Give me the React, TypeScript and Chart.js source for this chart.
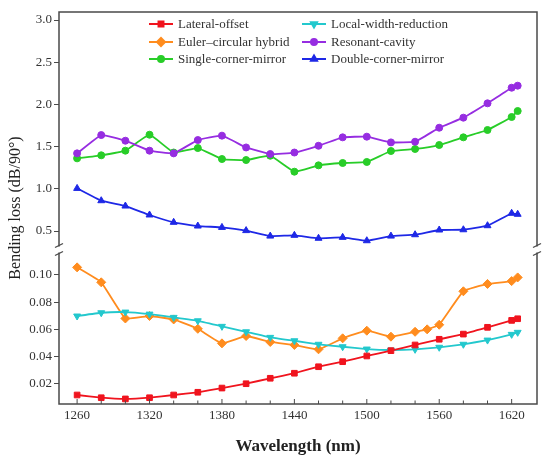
import { useEffect, useRef } from "react";
import { Chart, registerables } from "chart.js";
import { drawPoint } from "chart.js/helpers";

Chart.register(...registerables);

const FONT = "'Liberation Serif', 'Times New Roman', serif";

// wavelengths (nm) shared by most series
const WAVELENGTHS = [
  1260, 1280, 1300, 1320, 1340, 1360, 1380, 1400, 1420, 1440, 1460, 1480, 1500,
  1520, 1540, 1560, 1580, 1600, 1620, 1625,
];
// Euler curve has an extra sample at 1550
const WAVELENGTHS_EULER = [
  1260, 1280, 1300, 1320, 1340, 1360, 1380, 1400, 1420, 1440, 1460, 1480, 1500,
  1520, 1540, 1550, 1560, 1580, 1600, 1620, 1625,
];

// lower panel (dB/90°)
const LATERAL_OFFSET = [
  0.0117, 0.0097, 0.0088, 0.0097, 0.0117, 0.0137, 0.0168, 0.02, 0.024, 0.0277,
  0.0325, 0.0362, 0.0404, 0.0443, 0.0485, 0.0527, 0.0565, 0.0615, 0.0666, 0.0678,
];
const LOCAL_WIDTH = [
  0.0698, 0.0722, 0.0727, 0.0712, 0.0688, 0.0663, 0.0622, 0.0582, 0.0541,
  0.0516, 0.049, 0.0472, 0.0455, 0.0448, 0.0453, 0.0468, 0.049, 0.0521, 0.0563,
  0.0578,
];
const EULER_HYBRID = [
  0.1056, 0.0946, 0.068, 0.0698, 0.0673, 0.0604, 0.0497, 0.0551, 0.0507, 0.0485,
  0.0453, 0.0534, 0.059, 0.0546, 0.0582, 0.06, 0.0634, 0.088, 0.0934, 0.0955,
  0.0982,
];

// upper panel (dB/90°)
const RESONANT = [
  1.42, 1.637, 1.57, 1.452, 1.42, 1.578, 1.63, 1.49, 1.412, 1.43, 1.51, 1.61,
  1.618, 1.55, 1.558, 1.724, 1.843, 2.013, 2.198, 2.222,
];
const SINGLE_CORNER = [
  1.361, 1.397, 1.452, 1.641, 1.43, 1.483, 1.353, 1.341, 1.392, 1.203, 1.278,
  1.306, 1.318, 1.448, 1.472, 1.519, 1.61, 1.697, 1.851, 1.922,
];
const DOUBLE_CORNER = [
  1.005, 0.859, 0.796, 0.69, 0.603, 0.559, 0.543, 0.505, 0.44, 0.449, 0.414,
  0.425, 0.385, 0.44, 0.456, 0.512, 0.515, 0.563, 0.71, 0.698,
];

const X_TICKS = [
  1260, 1280, 1300, 1320, 1340, 1360, 1380, 1400, 1420, 1440, 1460, 1480, 1500,
  1520, 1540, 1560, 1580, 1600, 1620,
];
const X_LABELS = [1260, 1320, 1380, 1440, 1500, 1560, 1620];
const Y_TOP_TICKS = [0.5, 1.0, 1.5, 2.0, 2.5, 3.0];
const Y_BOTTOM_TICKS = [0.02, 0.04, 0.06, 0.08, 0.1];

const pts = (xs: number[], ys: number[]) => ys.map((y, i) => ({ x: xs[i], y }));

const series = [
  { label: "Lateral-offset", xs: WAVELENGTHS, ys: LATERAL_OFFSET, axis: "yBottom", color: "rgb(240,20,30)", style: "rect", radius: 4, rotation: 0 },
  { label: "Local-width-reduction", xs: WAVELENGTHS, ys: LOCAL_WIDTH, axis: "yBottom", color: "rgb(35,200,205)", style: "triangle", radius: 4, rotation: 180 },
  { label: "Euler\u2013circular hybrid", xs: WAVELENGTHS_EULER, ys: EULER_HYBRID, axis: "yBottom", color: "rgb(255,140,30)", style: "rectRot", radius: 4.5, rotation: 0 },
  { label: "Resonant-cavity", xs: WAVELENGTHS, ys: RESONANT, axis: "yTop", color: "rgb(150,45,225)", style: "circle", radius: 3.5, rotation: 0 },
  { label: "Single-corner-mirror", xs: WAVELENGTHS, ys: SINGLE_CORNER, axis: "yTop", color: "rgb(40,205,40)", style: "circle", radius: 3.5, rotation: 0 },
  { label: "Double-corner-mirror", xs: WAVELENGTHS, ys: DOUBLE_CORNER, axis: "yTop", color: "rgb(30,40,230)", style: "triangle", radius: 4, rotation: 0 },
];

// legend layout: two columns, three rows
const LEGEND_COLS = [
  ["Lateral-offset", "Euler\u2013circular hybrid", "Single-corner-mirror"],
  ["Local-width-reduction", "Resonant-cavity", "Double-corner-mirror"],
];

const decorPlugin = {
  id: "decor",
  afterDraw(chart: any) {
    const { ctx, chartArea: a, scales } = chart;
    ctx.save();
    const edge = "#4a4a4a";

    // frame
    ctx.strokeStyle = edge;
    ctx.lineWidth = 1.5;
    ctx.strokeRect(a.left, a.top, a.right - a.left, a.bottom - a.top);

    // inner x ticks
    ctx.lineWidth = 1;
    for (const t of X_TICKS) {
      const px = scales.x.getPixelForValue(t);
      const len = X_LABELS.includes(t) ? 5 : 3.5;
      ctx.beginPath();
      ctx.moveTo(px, a.bottom);
      ctx.lineTo(px, a.bottom - len);
      ctx.stroke();
    }

    // axis break
    const boundary = Math.max(scales.yTop.top, scales.yBottom.top);
    const g0 = boundary - 4;
    const g1 = boundary + 4;
    ctx.fillStyle = "#fff";
    for (const ex of [a.left, a.right]) {
      ctx.fillRect(ex - 3, g0 + 1, 6, g1 - g0 - 2);
      ctx.strokeStyle = edge;
      ctx.lineWidth = 1.3;
      for (const gy of [g0, g1]) {
        ctx.beginPath();
        ctx.moveTo(ex - 4, gy + 2);
        ctx.lineTo(ex + 4, gy - 2);
        ctx.stroke();
      }
    }

    // y title
    ctx.save();
    ctx.translate(16, (a.top + a.bottom) / 2);
    ctx.rotate(-Math.PI / 2);
    ctx.fillStyle = "#222";
    ctx.font = `16px ${FONT}`;
    ctx.textAlign = "center";
    ctx.textBaseline = "middle";
    ctx.fillText("Bending loss (dB/90\u00b0)", 0, 0);
    ctx.restore();

    // legend
    const colX = [a.left + 90, a.left + 243];
    const rowY = [a.top + 12, a.top + 30, a.top + 47];
    ctx.font = `13px ${FONT}`;
    ctx.textBaseline = "middle";
    ctx.textAlign = "left";
    LEGEND_COLS.forEach((col, ci) => {
      col.forEach((name, ri) => {
        const s = series.find((d) => d.label === name)!;
        const x0 = colX[ci];
        const y0 = rowY[ri];
        ctx.strokeStyle = s.color;
        ctx.fillStyle = s.color;
        ctx.lineWidth = 2;
        ctx.beginPath();
        ctx.moveTo(x0, y0);
        ctx.lineTo(x0 + 24, y0);
        ctx.stroke();
        drawPoint(ctx, { pointStyle: s.style as any, radius: s.radius - 0.5, rotation: s.rotation, borderWidth: 1 }, x0 + 12, y0);
        ctx.fillStyle = "#333";
        ctx.fillText(name, x0 + 29, y0 + 1);
      });
    });
    ctx.restore();
  },
};

export default function App() {
  const canvasRef = useRef<HTMLCanvasElement>(null);
  const chartRef = useRef<Chart | null>(null);

  useEffect(() => {
    if (!canvasRef.current) return;
    if (chartRef.current) chartRef.current.destroy();

    const tickFont = { family: FONT, size: 13 };

    chartRef.current = new Chart(canvasRef.current, {
      type: "line",
      data: {
        datasets: series.map((s) => ({
          label: s.label,
          data: pts(s.xs, s.ys),
          yAxisID: s.axis,
          borderColor: s.color,
          backgroundColor: s.color,
          borderWidth: 1.8,
          pointStyle: s.style as any,
          pointRadius: s.radius,
          pointRotation: s.rotation,
          pointBorderWidth: 1,
          tension: 0.1,
          fill: false,
        })),
      },
      options: {
        animation: false,
        responsive: true,
        maintainAspectRatio: false,
        layout: { padding: { top: 12, right: 13, left: 0, bottom: 0 } },
        plugins: {
          legend: { display: false },
          tooltip: { enabled: false },
        },
        scales: {
          x: {
            type: "linear",
            min: 1245,
            max: 1641,
            grid: { display: false },
            border: { display: false },
            afterBuildTicks: (s: any) => {
              s.ticks = X_TICKS.map((v) => ({ value: v }));
            },
            afterFit: (s: any) => {
              s.height = 57;
            },
            ticks: {
              autoSkip: false,
              maxRotation: 0,
              padding: -4,
              color: "#333",
              font: tickFont,
              callback: (v: any) => (X_LABELS.includes(Number(v)) ? String(v) : ""),
            },
            title: {
              display: true,
              text: "Wavelength (nm)",
              color: "#222",
              font: { family: FONT, size: 17, weight: "bold" },
              padding: { top: 6 },
            },
          },
          yBottom: {
            type: "linear",
            position: "left",
            stack: "loss",
            stackWeight: 154.5,
            min: 0.00507,
            max: 0.11875,
            grid: { drawOnChartArea: false, drawTicks: true, tickLength: 5, color: "#4a4a4a" },
            border: { display: false },
            afterBuildTicks: (s: any) => {
              s.ticks = Y_BOTTOM_TICKS.map((v) => ({ value: v }));
            },
            afterFit: (s: any) => {
              s.width = 59;
            },
            ticks: {
              padding: 2,
              color: "#333",
              font: tickFont,
              callback: (v: any) => Number(v).toFixed(2),
            },
          },
          yTop: {
            type: "linear",
            position: "left",
            stack: "loss",
            stackWeight: 237.5,
            min: 0.281,
            max: 3.095,
            grid: { drawOnChartArea: false, drawTicks: true, tickLength: 5, color: "#4a4a4a" },
            border: { display: false },
            afterBuildTicks: (s: any) => {
              s.ticks = Y_TOP_TICKS.map((v) => ({ value: v }));
            },
            afterFit: (s: any) => {
              s.width = 59;
            },
            ticks: {
              padding: 2,
              color: "#333",
              font: tickFont,
              callback: (v: any) => Number(v).toFixed(1),
            },
          },
        },
      },
      plugins: [decorPlugin],
    });

    return () => {
      if (chartRef.current) {
        chartRef.current.destroy();
        chartRef.current = null;
      }
    };
  }, []);

  return (
    <div style={{ position: "fixed", left: 0, top: 0, width: 550, height: 461, background: "#fff" }}>
      <canvas ref={canvasRef} />
    </div>
  );
}
